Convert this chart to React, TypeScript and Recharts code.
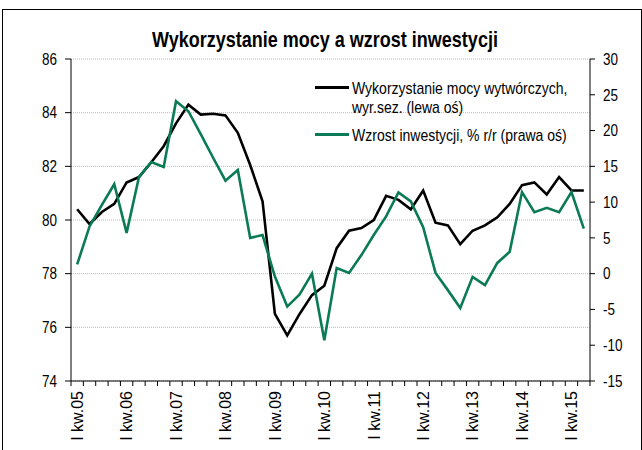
import React from "react";
import { ComposedChart, Line, XAxis, YAxis, CartesianGrid } from "recharts";

const categories = [
  "I kw.05", "II kw.05", "III kw.05", "IV kw.05",
  "I kw.06", "II kw.06", "III kw.06", "IV kw.06",
  "I kw.07", "II kw.07", "III kw.07", "IV kw.07",
  "I kw.08", "II kw.08", "III kw.08", "IV kw.08",
  "I kw.09", "II kw.09", "III kw.09", "IV kw.09",
  "I kw.10", "II kw.10", "III kw.10", "IV kw.10",
  "I kw.11", "II kw.11", "III kw.11", "IV kw.11",
  "I kw.12", "II kw.12", "III kw.12", "IV kw.12",
  "I kw.13", "II kw.13", "III kw.13", "IV kw.13",
  "I kw.14", "II kw.14", "III kw.14", "IV kw.14",
  "I kw.15", "II kw.15",
];

const capacityUse = [
  80.4, 79.85, 80.3, 80.6, 81.4, 81.6, 82.15, 82.75, 83.6, 84.3,
  83.93, 83.96, 83.9, 83.25, 82.05, 80.7, 76.5, 75.7, 76.5, 77.2,
  77.55, 78.95, 79.6, 79.7, 80.0, 80.9, 80.75, 80.4, 81.1, 79.9,
  79.8, 79.1, 79.6, 79.8, 80.1, 80.6, 81.3, 81.4, 80.95, 81.6,
  81.1, 81.1,
];

const investmentGrowth = [
  1.3, 6.6, 9.6, 12.5, 5.7, 13.5, 15.6, 14.9, 24.1, 22.7,
  19.5, 16.2, 13.0, 14.5, 5.0, 5.4, -0.4, -4.6, -2.9, 0.0,
  -9.3, 0.8, 0.1, 2.6, 5.4, 8.0, 11.35, 10.1, 6.5, 0.1,
  -2.3, -4.8, -0.45, -1.6, 1.5, 3.05, 11.4, 8.6, 9.2, 8.6,
  11.4, 6.3,
];

const leftTicks = [74, 76, 78, 80, 82, 84, 86];
const rightTicks = [-15, -10, -5, 0, 5, 10, 15, 20, 25, 30];

const title = "Wykorzystanie mocy a wzrost inwestycji";
const legendBlack1 = "Wykorzystanie mocy wytwórczych,";
const legendBlack2 = "wyr.sez. (lewa oś)";
const legendGreen = "Wzrost inwestycji, % r/r (prawa oś)";

const data = categories.map((c, i) => ({
  cat: c,
  cap: capacityUse[i],
  inv: investmentGrowth[i],
}));

const FONT = "'Liberation Sans', Arial, sans-serif";
const GREEN = "#0b7a56";
const PLOT_LEFT = 71;
const PLOT_RIGHT = 590;
const BW = (PLOT_RIGHT - PLOT_LEFT) / categories.length;
const SY = 1.2;

const XTick = (props: any) => {
  const { x, y, payload, index } = props;
  const half = BW / 2;
  const ly = y + 10;
  const showLabel = index % 4 === 0;
  return (
    <g>
      <line x1={x - half} y1={y} x2={x - half} y2={y + 5} stroke="#000" strokeWidth={1} />
      {index === categories.length - 1 && (
        <line x1={x + half} y1={y} x2={x + half} y2={y + 5} stroke="#000" strokeWidth={1} />
      )}
      {showLabel && (
        <text
          x={x}
          y={ly}
          transform={`rotate(-90, ${x}, ${ly})`}
          textAnchor="end"
          dy="0.36em"
          fontSize={16}
          fontFamily={FONT}
          fill="#000"
        >
          {payload.value}
        </text>
      )}
    </g>
  );
};

const YTick = (props: any) => {
  const { x, y, payload, textAnchor } = props;
  return (
    <text
      x={x}
      y={y}
      dy="0.36em"
      textAnchor={textAnchor}
      fontSize={13.5}
      fontFamily={FONT}
      fill="#000"
      transform={`translate(${x},${y}) scale(1,${SY}) translate(${-x},${-y})`}
    >
      {payload.value}
    </text>
  );
};

const textStyle: React.CSSProperties = {
  position: "absolute",
  fontFamily: FONT,
  color: "#000",
  whiteSpace: "nowrap",
  transform: `scaleY(${SY})`,
  transformOrigin: "left center",
  lineHeight: "1",
};

export default function App() {
  return (
    <div style={{ position: "absolute", left: 0, top: 0, width: 642, height: 450, background: "#fff", overflow: "hidden" }}>
      <div
        style={{
          position: "absolute",
          left: 2,
          top: 9,
          width: 638,
          height: 500,
          borderTop: "1px solid #000",
          borderLeft: "1px solid #000",
          borderRight: "1px solid #000",
        }}
      />
      <ComposedChart
        width={642}
        height={450}
        data={data}
        margin={{ top: 59, right: 12, bottom: 9, left: 11 }}
      >
        <CartesianGrid
          yAxisId="left"
          vertical={false}
          stroke="#b8b8b8"
          strokeDasharray="1 1"
        />
        <XAxis
          dataKey="cat"
          scale="point"
          padding={{ left: BW / 2, right: BW / 2 }}
          interval={0}
          tickLine={false}
          tickSize={0}
          tickMargin={0}
          tick={<XTick />}
          axisLine={{ stroke: "#000" }}
          height={60}
        />
        <YAxis
          yAxisId="left"
          orientation="left"
          domain={[74, 86]}
          ticks={leftTicks}
          width={60}
          tickSize={6}
          tickMargin={8}
          axisLine={{ stroke: "#000" }}
          tickLine={{ stroke: "#000" }}
          tick={<YTick />}
          allowDataOverflow
        />
        <YAxis
          yAxisId="right"
          orientation="right"
          domain={[-15, 30]}
          ticks={rightTicks}
          width={40}
          tickSize={5}
          tickMargin={8}
          axisLine={{ stroke: "#000" }}
          tickLine={{ stroke: "#000" }}
          tick={<YTick />}
          allowDataOverflow
        />
        <Line
          yAxisId="left"
          type="linear"
          dataKey="cap"
          stroke="#000"
          strokeWidth={2.6}
          dot={false}
          isAnimationActive={false}
        />
        <Line
          yAxisId="right"
          type="linear"
          dataKey="inv"
          stroke={GREEN}
          strokeWidth={2.6}
          dot={false}
          isAnimationActive={false}
        />
      </ComposedChart>

      <div
        style={{
          ...textStyle,
          left: 4,
          width: 642,
          top: 31,
          textAlign: "center",
          fontSize: 18,
          fontWeight: "bold",
          transformOrigin: "center center",
        }}
      >
        {title}
      </div>

      <div style={{ position: "absolute", left: 315, top: 86, width: 34, height: 3, background: "#000" }} />
      <div style={{ ...textStyle, left: 352, top: 81, fontSize: 14 }}>{legendBlack1}</div>
      <div style={{ ...textStyle, left: 352, top: 100, fontSize: 14 }}>{legendBlack2}</div>
      <div style={{ position: "absolute", left: 315, top: 133, width: 34, height: 3, background: GREEN }} />
      <div style={{ ...textStyle, left: 352, top: 128, fontSize: 14 }}>{legendGreen}</div>
    </div>
  );
}
